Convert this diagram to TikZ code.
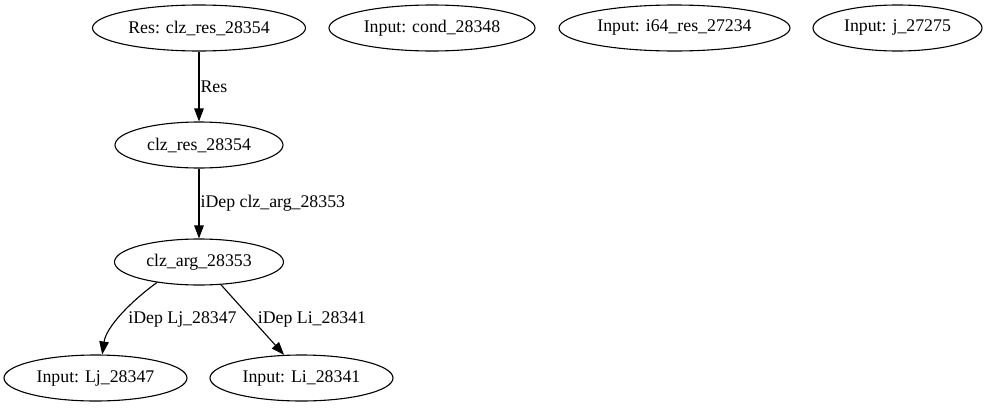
\documentclass[tikz,border=0pt]{standalone}
\usepackage{fontspec}
\setmainfont{Liberation Serif}
\usetikzlibrary{shapes.geometric,arrows.meta}
\tikzset{
  gnode/.style={draw, ellipse, line width=1.1pt, inner sep=0pt, minimum height=46pt, font=\fontsize{17.8}{20}\selectfont},
  lbl/.style={inner sep=0pt, font=\fontsize{17.8}{20}\selectfont},
  edge/.style={line width=1.1pt, -{Triangle[length=13pt,width=9.5pt]}}
}
\begin{document}
\begin{tikzpicture}[x=1pt,y=1pt]
\useasboundingbox (0,0) rectangle (987,-407);
\node[gnode, minimum width=213pt] (res) at (199,-28) {Res: clz\_res\_28354};
\node[gnode, minimum width=206pt] (cond) at (432,-28) {Input: cond\_28348};
\node[gnode, minimum width=231pt] (i64) at (674.5,-28) {Input: i64\_res\_27234};
\node[gnode, minimum width=169pt] (j) at (897.5,-28) {Input: j\_27275};
\node[gnode, minimum width=168pt] (clzres) at (199,-145) {clz\_res\_28354};
\node[gnode, minimum width=169pt] (clzarg) at (199,-262) {clz\_arg\_28353};
\node[gnode, minimum width=183pt] (lj) at (95.5,-378) {Input: Lj\_28347};
\node[gnode, minimum width=183pt] (li) at (301.5,-378) {Input: Li\_28341};
\draw[edge] (res) -- node[lbl, anchor=west, xshift=1pt] {Res} (clzres);
\draw[edge] (clzres) -- node[lbl, anchor=west, xshift=1pt] {iDep clz\_arg\_28353} (clzarg);
\draw[edge] (clzarg.206) .. controls +(-25,-18) and +(4,28) .. (lj.74);
\draw[edge] (clzarg.314) -- (li.127);
\node[lbl] (l3) at (182.5,-319) {iDep Lj\_28347};
\node[lbl] (l4) at (312,-319) {iDep Li\_28341};
\end{tikzpicture}
\end{document}
